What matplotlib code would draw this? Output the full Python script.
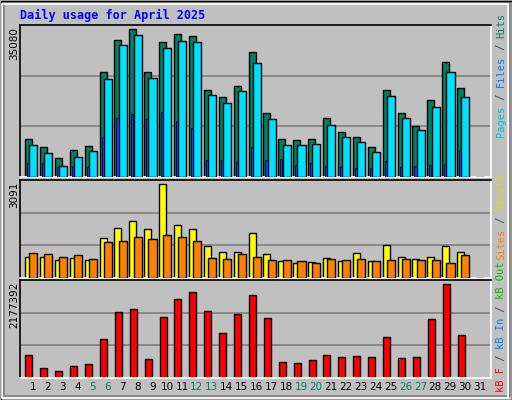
import matplotlib
matplotlib.use("Agg")
import matplotlib.pyplot as plt
from matplotlib.patches import Rectangle
import numpy as np

days = list(range(1, 32))
day_labels = [str(d) for d in days]
weekend_days = [5, 6, 12, 13, 19, 20, 26, 27]

hits = [8809, 6954, 4404, 6259, 7186, 24340, 31526, 34076, 24340, 31063, 32917, 32453, 20167, 18545, 21095,
        28744, 14836, 8809, 8577, 8809, 13677, 10431, 9272, 6954, 20167, 14836, 11822, 17849, 26426, 20631, 0]
files = [7418, 5563, 2550, 4636, 6027, 22717, 30367, 32685, 22949, 29672, 31294, 31063, 19008, 17154, 19936,
         26195, 13445, 7418, 7418, 7650, 12054, 9272, 8113, 5795, 18777, 13677, 10895, 16227, 24340, 18545, 0]
pages = [3245, 3245, 2318, 2550, 2318, 9272, 13677, 14604, 13445, 15068, 12981, 11359, 3941, 3941, 3477,
         6954, 3941, 4173, 2782, 3245, 2550, 2318, 2086, 2086, 3709, 2318, 2550, 2782, 3014, 6259, 0]
visits = [687, 687, 590, 655, 590, 1299, 1653, 1878, 1621, 3091, 1749, 1621, 1041, 848, 848,
          1460, 783, 558, 494, 526, 655, 558, 816, 558, 1073, 687, 623, 687, 1041, 848, 0]
sites = [816, 783, 687, 751, 623, 1170, 1202, 1331, 1266, 1395, 1331, 1202, 655, 623, 783,
         687, 590, 590, 558, 494, 623, 590, 623, 558, 590, 623, 590, 590, 494, 751, 0]
kbytes = [532449, 222516, 150993, 270198, 317880, 890064, 1533771, 1605294, 437085, 1414566, 1819863, 1986750,
          1557612, 1033110, 1486089, 1915227, 1390725, 365562, 341721, 413244, 532449, 484767, 508608, 484767,
          937746, 460926, 484767, 1366884, 2177392, 985428, 0]

title = "Daily usage for April 2025"
max_hits_label = "35080"
max_visits_label = "3091"
max_kb_label = "2177392"

BG = "#c0c0c0"
W, H = 512, 400
fig = plt.figure(figsize=(W/100, H/100), dpi=100)
fig.patch.set_facecolor(BG)
# outer bevel
fig.add_artist(Rectangle((0.5/W, 0.5/H), 1-1/W, 1-1/H, transform=fig.transFigure, fill=False, ec="black", lw=1))
fig.add_artist(Rectangle((2/W, 2/H), 1-6/W, 1-6/H, transform=fig.transFigure, fill=False, ec="white", lw=1.2))
fig.add_artist(Rectangle((4/W, 4/H), 1-6/W, 1-6/H, transform=fig.transFigure, fill=False, ec="#808080", lw=1.2, zorder=0))

x = np.array(days, dtype=float)
xl, xr = 20, 491
x0 = 1 - 13/14.9
x1 = 1 + (xr-33)/14.9

def mkax(top, bottom):
    ax = fig.add_axes([xl/W, 1-bottom/H, (xr-xl)/W, (bottom-top)/H])
    ax.set_facecolor(BG)
    ax.set_xlim(x0, x1)
    ax.set_xticks([]); ax.set_yticks([])
    for s in ["top", "left"]:
        ax.spines[s].set_color("black")
    for s in ["bottom", "right"]:
        ax.spines[s].set_color("white")
    for sp in ax.spines.values():
        sp.set_linewidth(1.2)
    return ax

kw = dict(edgecolor="black", linewidth=1)

ax1 = mkax(25, 177)
top1 = 35080
ax1.set_ylim(0, top1)
for k in (1, 2):
    ax1.axhline(top1*k/3, color="#808080", lw=1.2, zorder=0)
ax1.bar(x-0.3, hits, 0.47, color="#008060", zorder=2, **kw)
ax1.bar(x+0.02, files, 0.54, color="#00e0ff", zorder=3, **kw)
ax1.bar(x-0.33, pages, 0.14, color="#0040ff", zorder=4, edgecolor="black", linewidth=0.6)

ax2 = mkax(180, 278)
top2 = 3091*288/277
ax2.set_ylim(0, top2)
for k in (1, 2):
    ax2.axhline(top2*k/3, color="#808080", lw=1.2, zorder=0)
ax2.bar(x-0.3, visits, 0.47, color="#ffff00", zorder=2, **kw)
ax2.bar(x+0.02, sites, 0.54, color="#ff8000", zorder=3, **kw)

ax3 = mkax(280, 378)
top3 = 2177392*285/274
ax3.set_ylim(0, top3)
for k in (1, 2):
    ax3.axhline(top3*k/3, color="#808080", lw=1.2, zorder=0)
ax3.bar(x-0.27, kbytes, 0.47, color="#ff0000", zorder=2, **kw)

for d, lab in zip(days, day_labels):
    col = "#008060" if d in weekend_days else "black"
    ax3.text(d, -0.04, lab, transform=ax3.get_xaxis_transform(), ha="center", va="top",
             fontsize=7.5, color=col)

fig.text(20/W, 1-15/H, title, fontsize=8.5, family="DejaVu Sans Mono", weight="bold",
         color="#0000ff", va="center", ha="left")

for lab, ytop in ((max_hits_label, 27), (max_visits_label, 182), (max_kb_label, 282)):
    fig.text(14/W, 1-ytop/H, lab, rotation=90, fontsize=7.5, ha="center", va="top")

def side(parts, ybottom):
    t = None
    y = ybottom
    for txt, col in parts:
        t = fig.text(501/W, 1-y/H, txt, rotation=90, color=col, fontsize=7.5,
                     family="DejaVu Sans Mono", ha="center", va="bottom")
        fig.canvas.draw() if False else None
        y -= len(txt)*6.2

side([("Pages", "#00c0e0"), (" / ", "#404040"), ("Files", "#0080ff"), (" / ", "#404040"), ("Hits", "#008060")], 137)
side([("Sites", "#ff8000"), (" / ", "#404040"), ("Visits", "#e0e000")], 260)
side([("kB F", "#ff0000"), (" / ", "#404040"), ("kB In", "#0080ff"), (" / ", "#404040"), ("kB Out", "#00c000")], 392)

fig.savefig("out.png", dpi=100, facecolor=BG)
